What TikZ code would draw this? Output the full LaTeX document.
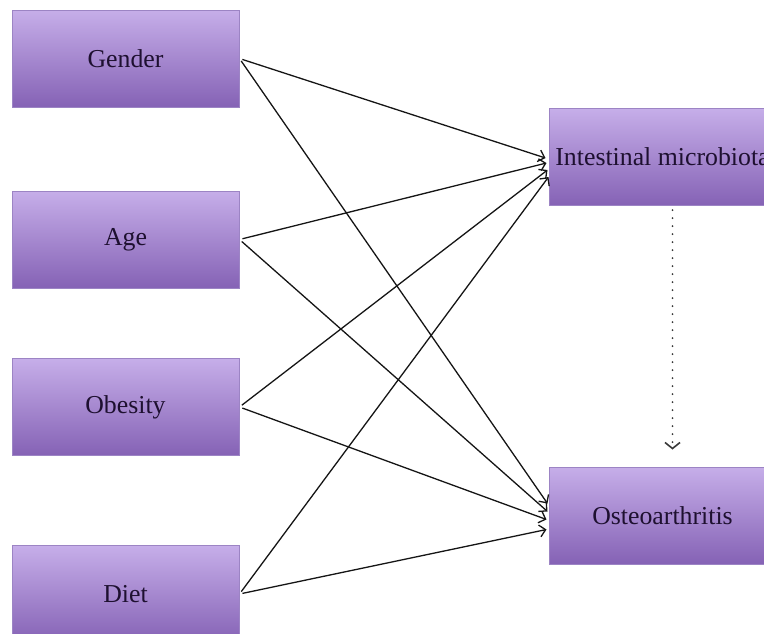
\documentclass[tikz,border=0pt]{standalone}
\usepackage{fontspec}
\setmainfont{Liberation Serif}
\usetikzlibrary{arrows.meta}
\definecolor{boxtop}{HTML}{C6AEE9}
\definecolor{boxbot}{HTML}{8562B5}
\definecolor{boxline}{HTML}{9C84C4}
\definecolor{boxtext}{HTML}{1E1030}
\definecolor{arr}{HTML}{151515}
\begin{document}
\begin{tikzpicture}[x=1pt,y=-1pt,
  factor/.style={rectangle, draw=boxline, line width=1pt, top color=boxtop, bottom color=boxbot,
    minimum width=227pt, minimum height=97pt, inner sep=0pt, text=boxtext,
    font=\fontsize{25.8}{30}\selectfont},
  link/.style={draw=arr, line width=1.3pt, shorten <=3pt, -{Straight Barb[length=6pt,width=12pt,line width=1.3pt]}},
  dotlink/.style={draw=arr!85, line width=2pt, line cap=round, dash pattern=on 0pt off 8pt,
    -{Straight Barb[length=6pt,width=15pt,line width=1.6pt]}}]
\clip (0,0) rectangle (764,633);
\node[factor] (g) at (125.5,58.5) {Gender};
\node[factor] (a) at (125.5,239.5) {Age};
\node[factor] (o) at (125.5,407) {Obesity};
\node[factor] (d) at (125.5,594) {Diet};
\node[factor] (im) at (662.5,157) {Intestinal microbiota};
\node[factor] (oa) at (662.5,515.5) {Osteoarthritis};
% to intestinal microbiota
\draw[link] (g.east) -- ([xshift=-3pt,yshift=-1pt]im.west);
\draw[link] (a.east) -- ([xshift=-2pt,yshift=-6pt]im.west);
\draw[link] (o.east) -- ([xshift=-1pt,yshift=-13pt]im.west);
\draw[link] (d.east) -- ([xshift=0pt,yshift=-20pt]im.west);
% to osteoarthritis
\draw[link] (g.east) -- ([xshift=-1pt,yshift=12pt]oa.west);
\draw[link] (a.east) -- ([xshift=-1pt,yshift=4pt]oa.west);
\draw[link] (o.east) -- ([xshift=-2pt,yshift=-4pt]oa.west);
\draw[link] (d.east) -- ([xshift=-2pt,yshift=-14pt]oa.west);
% dotted
\draw[dotlink] ([xshift=10pt,yshift=-4pt]im.south) -- ([xshift=10pt,yshift=17pt]oa.north);
\end{tikzpicture}
\end{document}
